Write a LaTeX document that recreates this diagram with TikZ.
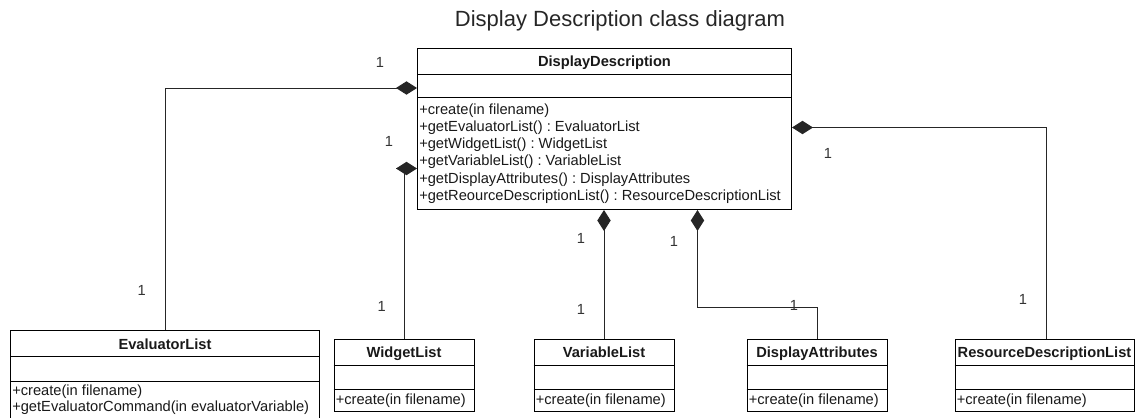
\documentclass[tikz,border=0pt]{standalone}
\usepackage{fontspec}
\setmainfont{Liberation Sans}
\usetikzlibrary{arrows.meta,calc,fit}
\frenchspacing

\tikzset{
  clsbox/.style={draw=black, line width=0.75pt, inner sep=0pt},
  sep/.style={draw=black, line width=0.75pt},
  title/.style={anchor=base, inner sep=0pt, font=\fontsize{16.5}{20}\selectfont, text=black!85},
  cname/.style={anchor=base, inner sep=0pt, font=\fontsize{11}{13}\selectfont\bfseries, text=black!90},
  meth/.style={anchor=base west, inner sep=0pt, font=\fontsize{11}{13}\selectfont, text=black!90},
  mult/.style={inner sep=0pt, font=\fontsize{11}{13}\selectfont, text=black!80},
  conn/.style={draw=black!85, line width=0.75pt},
  comp/.style={conn, -{Diamond[length=15.75pt,width=10pt]}}
}

% class box: id, x1, y1, x2, y2, first divider, second divider, name baseline, name
\newcommand\umlclass[9]{%
  \node[clsbox, fit={(#2,#3) (#4,#5)}] (#1) {};
  \draw[sep] (#1.west |- 0,#6) -- (#1.east |- 0,#6);
  \draw[sep] (#1.west |- 0,#7) -- (#1.east |- 0,#7);
  \node[cname] (#1-name) at (#1.north |- 0,#8) {#9};
}

\begin{document}
\begin{tikzpicture}[x=0.75pt, y=-0.75pt]
\useasboundingbox (0,0) rectangle (1140,418);

\node[title] (title) at (620,26) {Display Description class diagram};

% central aggregate
\umlclass{dd}{417.5}{48.5}{791.5}{209.5}{74.5}{97.5}{66.5}{DisplayDescription}
\node[meth] (dd-m1) at ($(dd.west |- 0,114)+(2,0)$) {+create(in filename)};
\node[meth] (dd-m2) at ($(dd.west |- 0,131.3)+(2,0)$) {+getEvaluatorList() : EvaluatorList};
\node[meth] (dd-m3) at ($(dd.west |- 0,148.6)+(2,0)$) {+getWidgetList() : WidgetList};
\node[meth] (dd-m4) at ($(dd.west |- 0,165.9)+(2,0)$) {+getVariableList() : VariableList};
\node[meth] (dd-m5) at ($(dd.west |- 0,183.2)+(2,0)$) {+getDisplayAttributes() : DisplayAttributes};
\node[meth] (dd-m6) at ($(dd.west |- 0,200.5)+(2,0)$) {+getReourceDescriptionList() : ResourceDescriptionList};

% parts
\umlclass{el}{10.5}{330.5}{319.5}{424}{356.5}{381}{349.3}{EvaluatorList}
\node[meth] (el-m1) at ($(el.west |- 0,395)+(2,0)$) {+create(in filename)};
\node[meth] (el-m2) at ($(el.west |- 0,411)+(2,0)$) {+getEvaluatorCommand(in evaluatorVariable)};

\umlclass{wl}{334}{339}{474}{411.5}{365.5}{389}{357.3}{WidgetList}
\node[meth] (wl-m1) at ($(wl.west |- 0,404)+(2,0)$) {+create(in filename)};

\umlclass{vl}{534}{339}{674}{411.5}{365.5}{389}{357.3}{VariableList}
\node[meth] (vl-m1) at ($(vl.west |- 0,404)+(2,0)$) {+create(in filename)};

\umlclass{da}{747}{339}{887}{411.5}{365.5}{389}{357.3}{DisplayAttributes}
\node[meth] (da-m1) at ($(da.west |- 0,404)+(2,0)$) {+create(in filename)};

\umlclass{rd}{955}{339}{1134}{411.5}{365.5}{389}{357.3}{ResourceDescriptionList}
\node[meth] (rd-m1) at ($(rd.west |- 0,404)+(2,0)$) {+create(in filename)};

% composition links
\draw[comp] (el.north) |- ($(dd.north west)+(0,40)$);

\coordinate (wl-tail) at ($(dd.north west)+(-21,120.5)$);
\draw[conn] (wl.north) -- (wl.north |- wl-tail);
\draw[comp] (wl-tail) -- (wl-tail -| dd.west);

\draw[comp] (vl.north) -- (vl.north |- dd.south);

\coordinate (da-bend) at ($(dd.south west)+(280.5,97.5)$);
\draw[comp] (da.north) |- (da-bend) -- (da-bend |- dd.south);

\coordinate (rd-top) at ($(rd.north)+(2,0)$);
\draw[comp] (rd-top) |- ($(dd.north east)+(0,79.5)$);

% multiplicities
\node[mult] (m-el-a) at (380,62.7) {1};
\node[mult] (m-el-b) at (141.7,290) {1};
\node[mult] (m-wl-a) at (389,141.7) {1};
\node[mult] (m-wl-b) at (381.7,306.7) {1};
\node[mult] (m-vl-a) at (581,238.3) {1};
\node[mult] (m-vl-b) at (581,309.3) {1};
\node[mult] (m-da-a) at (674,241.7) {1};
\node[mult] (m-da-b) at (794,305) {1};
\node[mult] (m-rd-a) at (828,153.3) {1};
\node[mult] (m-rd-b) at (1023,299) {1};
\end{tikzpicture}
\end{document}
